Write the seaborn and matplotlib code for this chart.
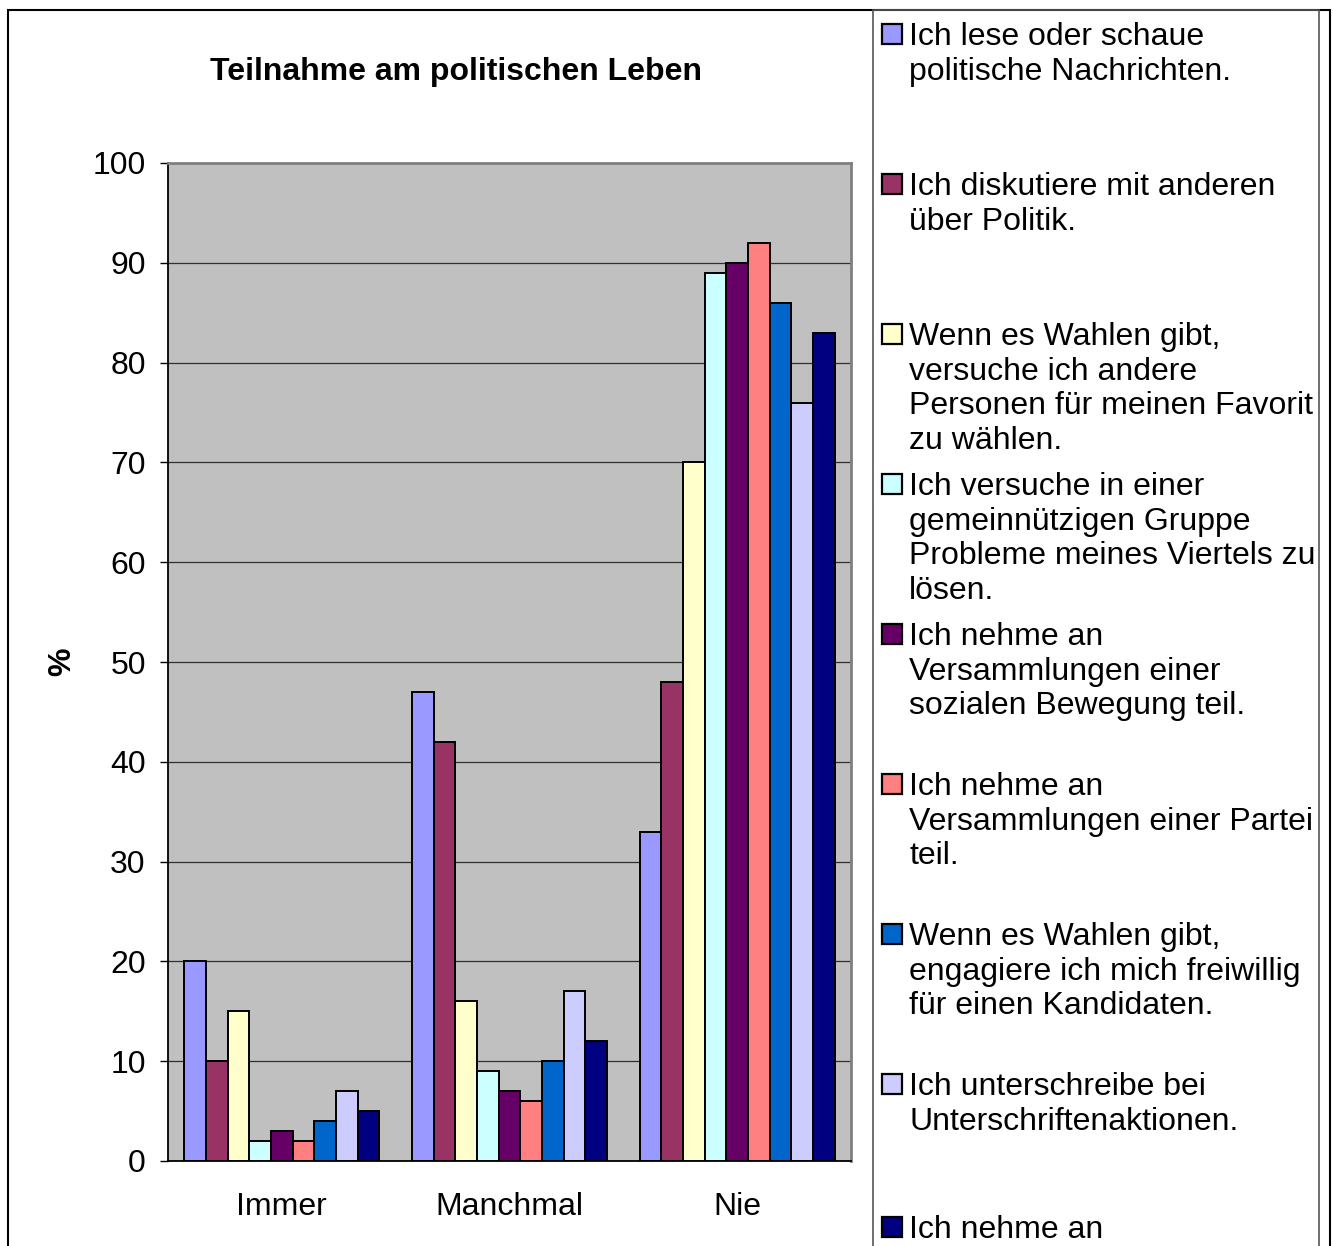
import matplotlib
matplotlib.use("Agg")
import matplotlib.pyplot as plt
from matplotlib.patches import Rectangle
import pandas as pd
import seaborn as sns

# Antworthäufigkeit je Aussage (in %)
kategorien = ["Immer", "Manchmal", "Nie"]
aussagen = [
    "Ich lese oder schaue\npolitische Nachrichten.",
    "Ich diskutiere mit anderen\nüber Politik.",
    "Wenn es Wahlen gibt,\nversuche ich andere\nPersonen für meinen Favorit\nzu wählen.",
    "Ich versuche in einer\ngemeinnützigen Gruppe\nProbleme meines Viertels zu\nlösen.",
    "Ich nehme an\nVersammlungen einer\nsozialen Bewegung teil.",
    "Ich nehme an\nVersammlungen einer Partei\nteil.",
    "Wenn es Wahlen gibt,\nengagiere ich mich freiwillig\nfür einen Kandidaten.",
    "Ich unterschreibe bei\nUnterschriftenaktionen.",
    "Ich nehme an",
]
immer = [20, 10, 15, 2, 3, 2, 4, 7, 5]
manchmal = [47, 42, 16, 9, 7, 6, 10, 17, 12]
nie = [33, 48, 70, 89, 90, 92, 86, 76, 83]
farben = ["#9999FF", "#993366", "#FFFFCC", "#CCFFFF", "#660066",
          "#FF8080", "#0066CC", "#CCCCFF", "#000080"]
y_ticks = list(range(0, 101, 10))

rows = []
for kat, werte in zip(kategorien, [immer, manchmal, nie]):
    for i, v in enumerate(werte):
        rows.append({"Antwort": kat, "Aussage": f"s{i}", "Prozent": v})
df = pd.DataFrame(rows)

sns.set_theme(style="white")
plt.rcParams["font.family"] = ["Liberation Sans", "DejaVu Sans"]
for key in ["text.color", "axes.labelcolor", "xtick.color", "ytick.color"]:
    plt.rcParams[key] = "black"

W, H = 1333, 1246
FS = 23
fig = plt.figure(figsize=(W / 100, H / 100), dpi=100)
fig.patch.set_facecolor("white")


def fx(px):
    return px / W


def fy(py):
    return 1 - py / H


ax = fig.add_axes([fx(168), fy(1161), fx(851) - fx(168), fy(163) - fy(1161)])
ax.set_facecolor("#C0C0C0")

sns.barplot(data=df, x="Antwort", y="Prozent", hue="Aussage",
            order=kategorien, hue_order=[f"s{i}" for i in range(len(aussagen))],
            palette=farben, width=9 / 10.5, edgecolor="black", linewidth=1.4,
            saturation=1, legend=False, ax=ax, zorder=3)

ax.set_xlim(-0.5, 2.5)
ax.set_ylim(0, 100)
ax.set_yticks(y_ticks)
ax.set_yticklabels([str(t) for t in y_ticks], fontsize=FS)
ax.yaxis.grid(True, color="#303030", linewidth=0.9, zorder=0)
ax.set_axisbelow(True)

ax.set_xticks(range(len(kategorien)))
ax.set_xticklabels(kategorien, fontsize=FS)
ax.set_xticks([-0.5, 0.5, 1.5, 2.5], minor=True)
ax.tick_params(axis="x", which="major", length=0, pad=22)
ax.tick_params(axis="x", which="minor", length=8, width=1, color="black", direction="out")
ax.tick_params(axis="y", length=6, width=1, color="black", direction="out", pad=10, left=True)
ax.set_xlabel("")
ax.set_ylabel("")

for side in ["left", "bottom"]:
    ax.spines[side].set_color("black")
    ax.spines[side].set_linewidth(1.3)
for side in ["top", "right"]:
    ax.spines[side].set_color("#808080")
    ax.spines[side].set_linewidth(2)

fig.text(fx(456), fy(72), "Teilnahme am politischen Leben", ha="center", va="center",
         fontsize=FS, fontweight="bold")
fig.text(fx(62), fy(662), "%", ha="center", va="center", rotation=90,
         fontsize=FS, fontweight="bold")

# Rahmen um das Diagramm und die Legende
fig.patches.append(Rectangle((fx(8), fy(1300)), fx(1330) - fx(8), fy(10) - fy(1300),
                             transform=fig.transFigure, fill=False,
                             edgecolor="black", linewidth=1.5))
fig.patches.append(Rectangle((fx(873), fy(1300)), fx(1319) - fx(873), fy(10) - fy(1300),
                             transform=fig.transFigure, fill=False,
                             edgecolor="#555555", linewidth=1.2))

# Legende
for i, (label, farbe) in enumerate(zip(aussagen, farben)):
    yc = 34 + 150 * i
    if i == len(aussagen) - 1:
        yc -= 7  # letzter Eintrag bleibt vollständig im Bild
    fig.patches.append(Rectangle((fx(882), fy(yc + 10)), fx(20), 20 / H,
                                 transform=fig.transFigure, facecolor=farbe,
                                 edgecolor="black", linewidth=1.6))
    fig.text(fx(909), fy(yc - 12), label, ha="left", va="top", fontsize=FS,
             linespacing=1.2)

fig.savefig("out.png", dpi=100)
